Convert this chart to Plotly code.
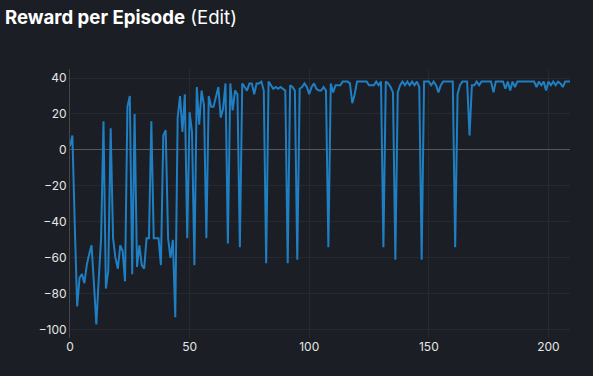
import plotly.graph_objects as go

episodes = list(range(210))
rewards = [
    2, 8, -42, -87, -71, -69, -74, -64, -58, -53,
    -74, -97, -72, -49, 16, -77, -67, 12, -49, -60,
    -66, -53, -56, -73, 24, 30, -69, 20, -65, -53,
    -64, -66, -49, -49, 16, -49, -49, -49, -64, 8,
    11, -49, -60, -50, -93, 18, 30, 10, 31, -49,
    21, 10, -64, 35, 14, 33, 25, -49, 30, 24,
    24, 29, 35, 18, 23, 37, -52, 37, 22, 33,
    31, -54, 37, 35, 33, 37, 37, 31, 37, 37,
    38, 33, -63, 38, 36, 34, 35, 34, 35, 34,
    33, -63, 36, 35, 33, -61, 34, 35, 37, 35,
    31, 35, 37, 34, 33, 33, 35, 33, -54, 37,
    32, 36, 36, 36, 38, 38, 38, 37, 26, 31,
    38, 38, 38, 38, 38, 36, 36, 36, 38, 36,
    38, -54, 38, 37, 35, 32, -61, 32, 36, 38,
    36, 38, 36, 38, 36, 38, 35, -61, 38, 38,
    38, 36, 38, 36, 32, 36, 38, 38, 38, 38,
    38, -54, 31, 36, 38, 38, 38, 8, 36, 36,
    38, 36, 38, 38, 38, 38, 38, 32, 38, 38,
    38, 38, 34, 38, 33, 38, 35, 38, 38, 38,
    38, 38, 38, 38, 38, 35, 38, 36, 38, 33,
    38, 36, 38, 36, 38, 37, 35, 38, 38, 38,
]

y_ticks = [-100, -80, -60, -40, -20, 0, 20, 40]
x_ticks = [0, 50, 100, 150, 200]

BG = "#1b1e24"
FONT = "Inter, Roboto, sans-serif"

fig = go.Figure()
fig.add_trace(go.Scatter(
    x=episodes, y=rewards, mode="lines",
    line=dict(color="#1f7fc2", width=2),
    hoverinfo="x+y", showlegend=False,
))

fig.update_layout(
    width=593, height=376,
    paper_bgcolor=BG, plot_bgcolor=BG,
    margin=dict(l=70, r=23, t=69, b=38),
    font=dict(family=FONT, color="#e6e6e6", size=12),
    title=dict(
        text="<b>Reward per Episode</b> (Edit)",
        font=dict(family=FONT, size=18.6, color="#ffffff"),
        x=5 / 593, xanchor="left", xref="container",
        y=1 - 17 / 376, yanchor="middle", yref="container",
    ),
    xaxis=dict(
        range=[0, 209], tickvals=x_ticks,
        showgrid=True, gridcolor="#262930", gridwidth=1,
        zeroline=False, showline=False,
        tickfont=dict(size=12, color="#e6e6e6"),
        ticks="", ticklen=0,
    ),
    yaxis=dict(
        range=[-104.5, 45], tickvals=y_ticks,
        showgrid=True, gridcolor="#262930", gridwidth=1,
        zeroline=True, zerolinecolor="#55585d", zerolinewidth=1,
        showline=True, linecolor="#44474c", linewidth=1,
        tickfont=dict(size=12, color="#e6e6e6"),
        ticks="", ticklen=0,
    ),
)

fig.write_html(
    "out.html",
    config={"displayModeBar": False},
    post_script="document.body.style.margin='0';document.body.style.background='#1b1e24';document.body.style.overflow='hidden';",
)
